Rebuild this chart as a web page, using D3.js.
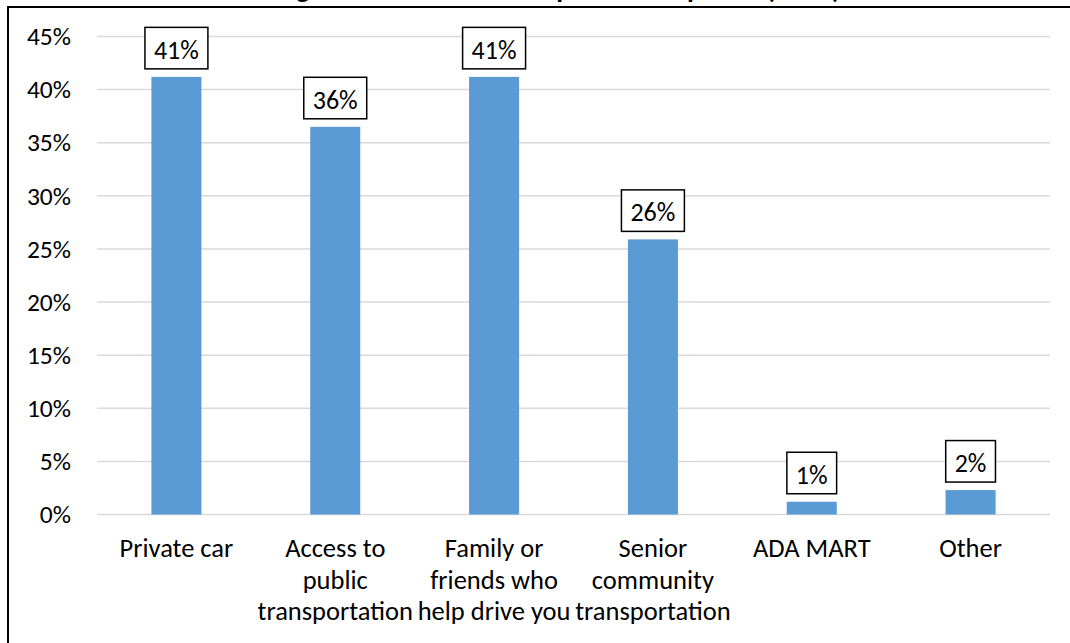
<!DOCTYPE html>
<html>
<head>
<meta charset="utf-8">
<script src="https://cdn.jsdelivr.net/npm/d3@7"></script>
<style>
  html, body { margin: 0; padding: 0; background: #fff; }
  svg { display: block; font-family: Carlito, Calibri, "Noto Sans", "Open Sans", sans-serif; }
</style>
</head>
<body>
<svg id="chart" width="1070" height="643"></svg>
<script>
// Share of respondents using each transportation option
const categories = ["Private car", "Access to public transportation", "Family or friends who help drive you",
                    "Senior community transportation", "ADA MART", "Other"];
const categoryLines = [
  ["Private car"],
  ["Access to", "public", "transportation"],
  ["Family or", "friends who", "help drive you"],
  ["Senior", "community", "transportation"],
  ["ADA MART"],
  ["Other"]
];
const shares = [0.412, 0.365, 0.412, 0.259, 0.012, 0.023];
const labels = ["41%", "36%", "41%", "26%", "1%", "2%"];
const yTicks = [0, 0.05, 0.10, 0.15, 0.20, 0.25, 0.30, 0.35, 0.40, 0.45];
const title = "Having access to these transportation options (n=85)";

const FONT = 'Carlito, Calibri, "Noto Sans", "Open Sans", sans-serif';
const svg = d3.select("#chart");

// Frame around the chart area (top and left edges are inside the page)
svg.append("line").attr("x1", 8).attr("x2", 1070).attr("y1", 7).attr("y2", 7)
  .attr("stroke", "#000").attr("stroke-width", 2);
svg.append("line").attr("x1", 8).attr("x2", 8).attr("y1", 6).attr("y2", 643)
  .attr("stroke", "#000").attr("stroke-width", 2);

// Title sits above the frame, only its lowest strokes showing
svg.append("text")
  .attr("x", 230).attr("y", -2)
  .attr("text-anchor", "start")
  .attr("font-weight", "bold")
  .attr("font-size", 28)
  .attr("fill", "#000")
  .text(title);

const x = d3.scaleBand().domain(categories).range([97, 1050]).padding(0);
const y = d3.scaleLinear().domain([0, 0.45]).range([514.5, 36.5]);
const barW = x.bandwidth() * 0.315;

// Horizontal gridlines
svg.append("g")
  .selectAll("line")
  .data(yTicks)
  .join("line")
  .attr("x1", 97).attr("x2", 1050)
  .attr("y1", d => y(d)).attr("y2", d => y(d))
  .attr("stroke", "#d9d9d9").attr("stroke-width", 1.5);

// Y axis labels
const yAxis = d3.axisLeft(y).tickValues(yTicks).tickFormat(d3.format(".0%")).tickSize(0).tickPadding(0);
const yG = svg.append("g").attr("transform", "translate(71,0)").call(yAxis);
yG.select(".domain").remove();
yG.selectAll("text")
  .attr("font-size", 25.5)
  .attr("fill", "#000")
  .attr("font-family", FONT)
  .attr("dy", "0.32em");

// Bars
svg.append("g")
  .selectAll("rect")
  .data(shares)
  .join("rect")
  .attr("x", (d, i) => x(categories[i]) + x.bandwidth() / 2 - barW / 2)
  .attr("width", barW)
  .attr("y", d => y(d))
  .attr("height", d => y(0) - y(d))
  .attr("fill", "#5b9bd5");

// Boxed value labels
const lblG = svg.append("g");
shares.forEach((d, i) => {
  const cx = x(categories[i]) + x.bandwidth() / 2;
  const g = lblG.append("g");
  const t = g.append("text")
    .attr("x", cx)
    .attr("y", y(d) - 8 - 10)
    .attr("text-anchor", "middle")
    .attr("font-size", 26)
    .attr("fill", "#000")
    .text(labels[i]);
  const w = t.node().getComputedTextLength() + 18;
  g.insert("rect", "text")
    .attr("x", cx - w / 2)
    .attr("y", y(d) - 8 - 41.5)
    .attr("width", w)
    .attr("height", 41.5)
    .attr("fill", "#fff")
    .attr("stroke", "#000")
    .attr("stroke-width", 1.5);
});

// Category labels, wrapped onto several lines
const xG = svg.append("g");
categoryLines.forEach((lines, i) => {
  const cx = x(categories[i]) + x.bandwidth() / 2;
  const t = xG.append("text")
    .attr("text-anchor", "middle")
    .attr("font-size", 26.5)
    .attr("fill", "#000");
  lines.forEach((ln, j) => {
    t.append("tspan").attr("x", cx).attr("y", 557 + j * 31.5).text(ln);
  });
});
</script>
</body>
</html>
